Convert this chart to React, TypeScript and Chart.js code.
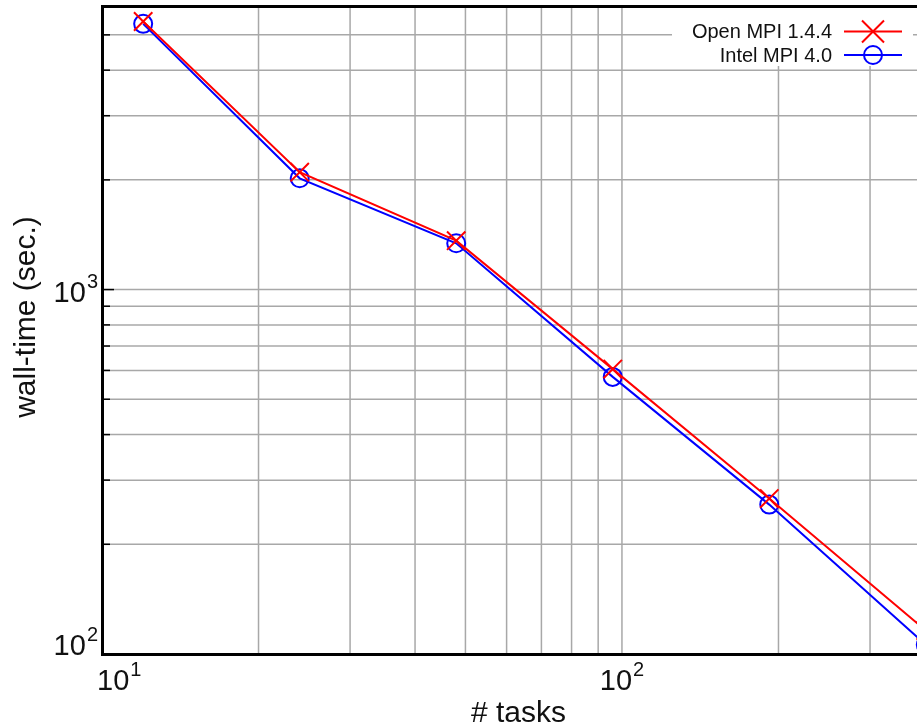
import React, { useEffect, useRef } from 'react';
import { Chart, registerables } from 'chart.js';

Chart.register(...registerables);

// ---- data ----
const tasks = [12, 24, 48, 96, 192, 384];
const openMpiTimes = [5440, 2100, 1362, 605, 267, 116];
const intelMpiTimes = [5360, 2020, 1340, 576, 257, 106];
const seriesLabels = ['Open MPI 1.4.4', 'Intel MPI 4.0'];
const seriesColors = ['#ff0000', '#0000ff'];
const xTickValues = [10, 100];
const yTickValues = [100, 1000];
const xRange = [10, 400];
const yRange = [100, 6000];
const xTitle = '# tasks';
const yTitle = 'wall-time (sec.)';

const FONT = '"Liberation Sans", Arial, sans-serif';
const CANVAS_W = 940;
const CANVAS_H = 727;

function expOf(v: number) {
  return String(Math.round(Math.log10(v)));
}

function gridValues(min: number, max: number) {
  const out: { v: number; major: boolean }[] = [];
  const k0 = Math.floor(Math.log10(min));
  const k1 = Math.ceil(Math.log10(max));
  for (let k = k0; k <= k1; k++) {
    for (let m = 1; m <= 9; m++) {
      const v = m * Math.pow(10, k);
      if (v > min * 1.0001 && v < max * 0.9999) out.push({ v, major: m === 1 });
    }
  }
  return out;
}

function drawPowLabel(ctx: CanvasRenderingContext2D, exp: string, x: number, baseline: number, align: 'left' | 'right' | 'center') {
  ctx.save();
  ctx.fillStyle = '#111';
  ctx.textBaseline = 'alphabetic';
  ctx.textAlign = 'left';
  ctx.font = `29px ${FONT}`;
  const wBase = ctx.measureText('10').width;
  ctx.font = `20px ${FONT}`;
  const wExp = ctx.measureText(exp).width;
  const total = wBase + 1 + wExp;
  let left = x;
  if (align === 'right') left = x - total;
  else if (align === 'center') left = x - total / 2;
  ctx.font = `29px ${FONT}`;
  ctx.fillText('10', left, baseline);
  ctx.font = `20px ${FONT}`;
  ctx.fillText(exp, left + wBase + 1, baseline - 14);
  ctx.restore();
  return total;
}

const gridPlugin = {
  id: 'gnuGrid',
  beforeDatasetsDraw(chart: any) {
    const { ctx, chartArea } = chart;
    const xs = chart.scales.x;
    const ys = chart.scales.y;
    ctx.save();
    ctx.strokeStyle = '#a8a8a8';
    ctx.lineWidth = 1.5;
    for (const g of gridValues(xRange[0], xRange[1])) {
      const px = xs.getPixelForValue(g.v);
      ctx.beginPath();
      ctx.moveTo(px, chartArea.top);
      ctx.lineTo(px, chartArea.bottom);
      ctx.stroke();
    }
    for (const g of gridValues(yRange[0], yRange[1])) {
      const py = ys.getPixelForValue(g.v);
      ctx.beginPath();
      ctx.moveTo(chartArea.left, py);
      ctx.lineTo(chartArea.right, py);
      ctx.stroke();
    }
    // ticks on left axis
    ctx.strokeStyle = '#000';
    ctx.lineWidth = 1.5;
    for (const g of gridValues(yRange[0], yRange[1])) {
      const py = ys.getPixelForValue(g.v);
      const len = g.major ? 12 : 8;
      ctx.beginPath();
      ctx.moveTo(chartArea.left, py);
      ctx.lineTo(chartArea.left + len, py);
      ctx.stroke();
    }
    ctx.restore();
  },
  afterDraw(chart: any) {
    const { ctx, chartArea } = chart;
    const xs = chart.scales.x;
    const ys = chart.scales.y;
    const { left, right, top, bottom } = chartArea;

    // frame
    ctx.save();
    ctx.strokeStyle = '#000';
    ctx.lineWidth = 3;
    ctx.strokeRect(left + 0.5, top + 0.5, right - left, bottom - top);
    ctx.restore();

    // y tick labels
    for (const v of yTickValues) {
      const py = ys.getPixelForValue(v);
      const baseline = Math.min(py + 12, bottom + 0.5);
      drawPowLabel(ctx, expOf(v), left - 4, baseline, 'right');
    }
    // x tick labels
    for (const v of xTickValues) {
      const px = xs.getPixelForValue(v);
      ctx.save();
      ctx.font = `29px ${FONT}`;
      const wb = ctx.measureText('10').width;
      ctx.font = `20px ${FONT}`;
      const we = ctx.measureText(expOf(v)).width;
      ctx.restore();
      const total = wb + 1 + we;
      const l = Math.max(px - total / 2, left - 5);
      drawPowLabel(ctx, expOf(v), l, bottom + 36, 'left');
    }

    // axis titles
    ctx.save();
    ctx.fillStyle = '#111';
    ctx.font = `30px ${FONT}`;
    ctx.textAlign = 'center';
    ctx.textBaseline = 'alphabetic';
    ctx.fillText(xTitle, (left + right) / 2, 722);
    ctx.translate(35, 317);
    ctx.rotate(-Math.PI / 2);
    ctx.fillText(yTitle, 0, 0);
    ctx.restore();

    // legend (inside top right)
    ctx.save();
    ctx.fillStyle = '#ffffff';
    ctx.fillRect(right - 263, top + 2, 241, 58);
    const rows = [31.5, 55];
    chart.data.datasets.forEach((ds: any, i: number) => {
      const y = rows[i];
      ctx.fillStyle = '#111';
      ctx.font = `20px ${FONT}`;
      ctx.textAlign = 'right';
      ctx.textBaseline = 'middle';
      ctx.fillText(ds.label, right - 103, y + 1);
      ctx.strokeStyle = ds.borderColor;
      ctx.lineWidth = 2;
      ctx.beginPath();
      ctx.moveTo(right - 91, y);
      ctx.lineTo(right - 33, y);
      ctx.stroke();
      const cx = right - 62;
      ctx.beginPath();
      if (ds.pointStyle === 'crossRot') {
        const h = 11;
        ctx.moveTo(cx - h, y - h);
        ctx.lineTo(cx + h, y + h);
        ctx.moveTo(cx - h, y + h);
        ctx.lineTo(cx + h, y - h);
      } else {
        ctx.arc(cx, y, 9, 0, Math.PI * 2);
      }
      ctx.stroke();
    });
    ctx.restore();
  },
};

export default function App() {
  const ref = useRef<HTMLCanvasElement | null>(null);
  useEffect(() => {
    document.body.style.margin = '0';
    const canvas = ref.current;
    if (!canvas) return;
    const chart = new Chart(canvas, {
      type: 'line',
      data: {
        datasets: [
          {
            label: seriesLabels[0],
            data: tasks.map((t, i) => ({ x: t, y: openMpiTimes[i] })),
            borderColor: seriesColors[0],
            backgroundColor: 'transparent',
            borderWidth: 2,
            pointStyle: 'crossRot',
            pointRadius: 13,
            pointBorderWidth: 2,
            pointBorderColor: seriesColors[0],
            pointBackgroundColor: 'transparent',
            tension: 0,
          },
          {
            label: seriesLabels[1],
            data: tasks.map((t, i) => ({ x: t, y: intelMpiTimes[i] })),
            borderColor: seriesColors[1],
            backgroundColor: 'transparent',
            borderWidth: 2,
            pointStyle: 'circle',
            pointRadius: 9,
            pointBorderWidth: 2,
            pointBorderColor: seriesColors[1],
            pointBackgroundColor: 'transparent',
            tension: 0,
          },
        ],
      },
      options: {
        animation: false,
        responsive: false,
        devicePixelRatio: 1,
        layout: { autoPadding: false, padding: { left: 0, top: 6, right: 5, bottom: 0 } },
        plugins: { legend: { display: false }, tooltip: { enabled: false } },
        scales: {
          x: {
            type: 'logarithmic',
            min: xRange[0],
            max: xRange[1],
            grid: { display: false },
            border: { display: false },
            ticks: { display: false },
            title: { display: false },
            afterFit: (s: any) => { s.height = 73; },
          },
          y: {
            type: 'logarithmic',
            min: yRange[0],
            max: yRange[1],
            grid: { display: false },
            border: { display: false },
            ticks: { display: false },
            title: { display: false },
            afterFit: (s: any) => { s.width = 102; },
          },
        },
      } as any,
      plugins: [gridPlugin],
    });
    return () => chart.destroy();
  }, []);
  return (
    <div style={{ position: 'fixed', left: 0, top: 0, width: 917, height: 727, overflow: 'hidden', background: '#fff' }}>
      <canvas ref={ref} width={CANVAS_W} height={CANVAS_H} style={{ display: 'block', width: CANVAS_W, height: CANVAS_H }} />
    </div>
  );
}
